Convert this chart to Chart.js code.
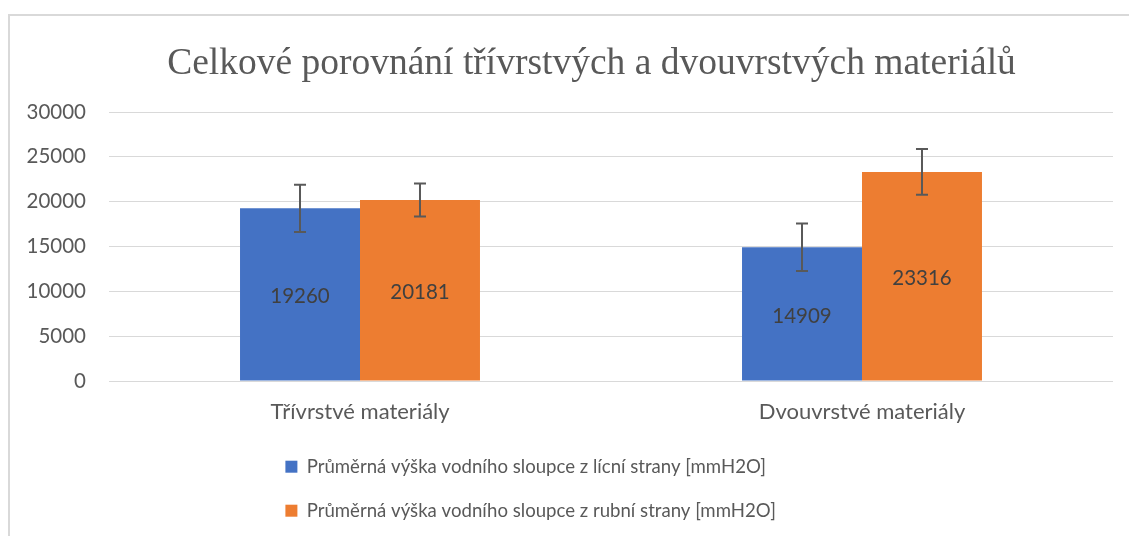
<!DOCTYPE html>
<html lang="cs">
<head>
<meta charset="utf-8">
<title>Celkové porovnání třívrstvých a dvouvrstvých materiálů</title>
<script src="https://cdn.jsdelivr.net/npm/chart.js@4/dist/chart.umd.min.js"></script>
<style>
  html, body { margin: 0; padding: 0; background: #ffffff; overflow: hidden; }
  #frame { position: absolute; left: 8px; top: 14px; width: 1200px; height: 600px;
           border-left: 2px solid #d9d9d9; border-top: 2px solid #d9d9d9; }
  #chart { position: absolute; left: 0; top: 0; }
</style>
</head>
<body>
<div id="frame"></div>
<canvas id="chart" width="1129" height="536"></canvas>
<script>
// Categories and series
const categories = ['Třívrstvé materiály', 'Dvouvrstvé materiály'];
const seriesNames = [
  'Průměrná výška vodního sloupce z lícní strany [mmH2O]',
  'Průměrná výška vodního sloupce z rubní strany [mmH2O]'
];
const licniValues = [19260, 14909];
const rubniValues = [20181, 23316];
// Standard deviations shown as error bars
const licniErrors = [2640, 2650];
const rubniErrors = [1840, 2550];
// Value axis ticks
const yTicks = [0, 5000, 10000, 15000, 20000, 25000, 30000];

const UI_FONT = 'Lato, "Open Sans", sans-serif';

// Draws symmetric error bars above each bar
const errorBars = {
  id: 'errorBars',
  afterDatasetsDraw(chart) {
    const ctx = chart.ctx;
    const yScale = chart.scales.y;
    ctx.save();
    ctx.strokeStyle = '#595959';
    ctx.lineWidth = 2;
    chart.data.datasets.forEach((ds, di) => {
      const meta = chart.getDatasetMeta(di);
      meta.data.forEach((bar, i) => {
        const v = ds.data[i];
        const e = ds.errors[i];
        const yHi = yScale.getPixelForValue(v + e);
        const yLo = yScale.getPixelForValue(v - e);
        const x = bar.x;
        ctx.beginPath();
        ctx.moveTo(x, yHi); ctx.lineTo(x, yLo);
        ctx.moveTo(x - 6, yHi); ctx.lineTo(x + 6, yHi);
        ctx.moveTo(x - 6, yLo); ctx.lineTo(x + 6, yLo);
        ctx.stroke();
      });
    });
    ctx.restore();
  }
};

// Writes each value in the middle of its bar
const barValues = {
  id: 'barValues',
  afterDatasetsDraw(chart) {
    const ctx = chart.ctx;
    ctx.save();
    ctx.font = '20.5px ' + UI_FONT;
    ctx.fillStyle = '#404040';
    ctx.textAlign = 'center';
    ctx.textBaseline = 'middle';
    chart.data.datasets.forEach((ds, di) => {
      const meta = chart.getDatasetMeta(di);
      meta.data.forEach((bar, i) => {
        ctx.fillText(String(ds.data[i]), bar.x, (bar.y + bar.base) / 2 + 2);
      });
    });
    ctx.restore();
  }
};

// The title sits a little right of the page centre; the legend is a left-aligned
// block of one entry per row, indented under the first category
const boxOffsets = {
  id: 'boxOffsets',
  afterLayout(chart) {
    const t = chart.titleBlock;
    if (t) { t.left += 35; t.right += 35; }
    const lg = chart.legend;
    if (lg) { lg.left += 151; lg.right = lg.left + 600; }
  }
};

new Chart(document.getElementById('chart'), {
  type: 'bar',
  data: {
    labels: categories,
    datasets: [
      { label: seriesNames[0], data: licniValues, errors: licniErrors,
        backgroundColor: '#4472C4', borderWidth: 0 },
      { label: seriesNames[1], data: rubniValues, errors: rubniErrors,
        backgroundColor: '#ED7D31', borderWidth: 0 }
    ]
  },
  options: {
    responsive: false,
    animation: false,
    events: [],
    datasets: { bar: { barPercentage: 1.0, categoryPercentage: 0.478 } },
    layout: { padding: { left: 0, right: 16, top: 0, bottom: 6 } },
    plugins: {
      title: {
        display: true,
        text: 'Celkové porovnání třívrstvých a dvouvrstvých materiálů',
        color: '#595959',
        font: { family: '"Liberation Serif", "Times New Roman", serif', size: 37.5, weight: 'normal', lineHeight: 1.2 },
        padding: { top: 42, bottom: 25 }
      },
      legend: {
        display: true,
        position: 'bottom',
        align: 'start',
        fullSize: false,
        labels: {
          color: '#595959',
          font: { family: UI_FONT, size: 18.6 },
          boxWidth: 12,
          boxHeight: 12,
          padding: 25.4
        }
      },
      tooltip: { enabled: false }
    },
    scales: {
      x: {
        grid: { display: false },
        border: { display: false },
        ticks: { color: '#595959', font: { family: UI_FONT, size: 22 }, padding: 10 },
        afterFit(scale) { scale.height = 51; }
      },
      y: {
        min: 0,
        max: 30000,
        afterBuildTicks(scale) { scale.ticks = yTicks.map(v => ({ value: v })); },
        grid: { color: '#d9d9d9', lineWidth: 1, drawTicks: false },
        border: { display: false },
        ticks: {
          color: '#595959',
          font: { family: UI_FONT, size: 20.5 },
          padding: 23,
          callback: (v) => String(v)
        },
        afterFit(scale) { scale.width = 109; }
      }
    }
  },
  plugins: [errorBars, barValues, boxOffsets]
});
</script>
</body>
</html>
